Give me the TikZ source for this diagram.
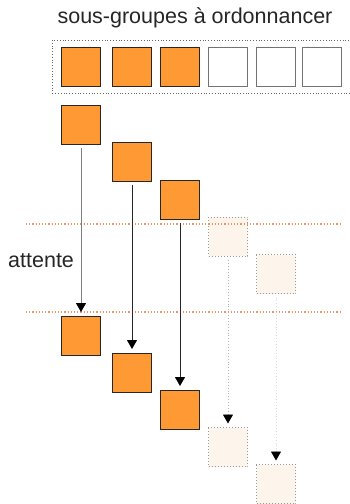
\documentclass[tikz,border=0pt]{standalone}
\usepackage{fontspec}
\setmainfont{Liberation Sans}
\usetikzlibrary{arrows.meta}
\definecolor{org}{HTML}{FF9933}
\definecolor{faint}{HTML}{FDF5EC}
\definecolor{sepc}{HTML}{E8956A}
\tikzset{
  sq/.style={minimum size=39pt, inner sep=0pt, outer sep=0pt, line width=1pt},
  osq/.style={sq, fill=org, draw=black!85},
  wsq/.style={sq, fill=white, draw=black!55},
  fsq/.style={sq, fill=faint, draw=black!40, dotted},
  arr/.style={line width=0.9pt, -{Triangle[width=10pt,length=9pt,color=black]}, shorten <=4pt, shorten >=4pt},
  sep/.style={draw=sepc, dotted, line width=1.2pt},
  lbl/.style={inner sep=0pt, font=\fontsize{21.5}{24}\selectfont, text=black!85}
}
\begin{document}
\begin{tikzpicture}[x=1pt,y=-1pt]
\useasboundingbox (0,0) rectangle (349,504);
% title
\node[lbl, anchor=base] (title) at (195,23) {sous-groupes à ordonnancer};
% dotted box
\node[draw=black!60, dotted, line width=0.8pt, minimum width=301pt, minimum height=53pt, inner sep=0pt, anchor=north west] (box) at (52,39.5) {};
% top row
\node[osq] (t1) at (81,67) {};
\node[osq] (t2) at (132,67) {};
\node[osq] (t3) at (180,67) {};
\node[wsq] (t4) at (228,67) {};
\node[wsq] (t5) at (276,67) {};
\node[wsq] (t6) at (321.5,67) {};
% separators
\coordinate (s1a) at (26,224);
\coordinate (s1b) at (341,224);
\coordinate (s2a) at (26,312);
\coordinate (s2b) at (341,312);
% upper staircase
\node[osq] (a1) at (81,124.5) {};
\node[osq] (a2) at (132,161.5) {};
\node[osq] (a3) at (180,199.5) {};
\node[fsq] (a4) at (228,236.5) {};
\node[fsq] (a5) at (276,274) {};
% lower staircase
\node[osq] (b1) at (81,335.5) {};
\node[osq] (b2) at (132,372.5) {};
\node[osq] (b3) at (180,409.5) {};
\node[fsq] (b4) at (228,447) {};
\node[fsq] (b5) at (276,484) {};
\draw[sep] (s1a) -- (s1b);
\draw[sep] (s2a) -- (s2b);
% label
\node[lbl, anchor=base west] (att) at (8,267) {attente};
% arrows
\draw[arr, draw=black!50] (a1) -- (b1);
\draw[arr, draw=black!85] (a2) -- (b2);
\draw[arr, draw=black!85] (a3) -- (b3);
\draw[arr, draw=black!30, dotted] (a4) -- (b4);
\draw[arr, draw=black!15, dotted] (a5) -- (b5);
\end{tikzpicture}
\end{document}
